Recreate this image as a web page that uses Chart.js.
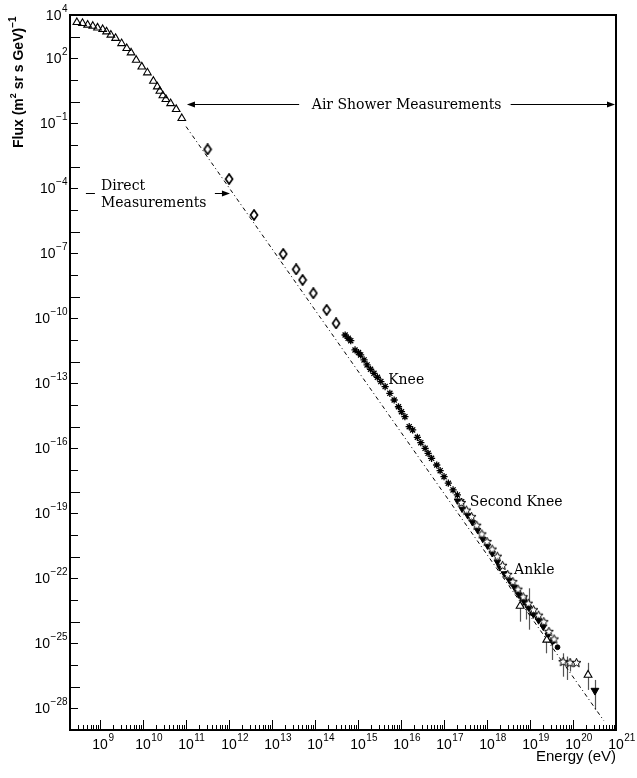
<!DOCTYPE html>
<html>
<head>
<meta charset="utf-8">
<script src="https://cdn.jsdelivr.net/npm/chart.js@4/dist/chart.umd.min.js"></script>
<style>
  html, body { margin: 0; padding: 0; background: #fff; }
  canvas { display: block; }
</style>
</head>
<body>
<canvas id="spectrum" width="637" height="778"></canvas>
<script>
// Values are log10: energy in eV, flux in (m^2 sr s GeV)^-1

// direct measurements (open triangles)
const directLogE = [8.46, 8.59, 8.71, 8.83, 8.94, 9.06, 9.15, 9.25, 9.36, 9.50, 9.62, 9.72,
  9.84, 9.97, 10.10, 10.24, 10.33, 10.39, 10.46, 10.53, 10.64, 10.77, 10.90];
const directLogF = [3.66, 3.62, 3.54, 3.49, 3.41, 3.34, 3.23, 3.08, 2.93, 2.69, 2.46, 2.26,
  1.92, 1.61, 1.34, 0.95, 0.69, 0.49, 0.28, 0.11, -0.08, -0.35, -0.77];

// balloon / satellite points (open diamonds)
const balloonLogE = [11.50, 12.00, 12.58, 13.26, 13.56, 13.71, 13.96, 14.27, 14.49];
const balloonLogF = [-2.20, -3.57, -5.23, -7.03, -7.74, -8.23, -8.84, -9.61, -10.23];

// knee region (asterisks)
const kneeLogE = [14.70, 14.77, 14.83, 14.93, 15.01, 15.06, 15.14, 15.21, 15.29, 15.37, 15.45,
  15.53, 15.63, 15.74, 15.84, 15.94, 16.01, 16.09, 16.19, 16.27, 16.38, 16.46, 16.56, 16.63,
  16.71, 16.83, 16.91, 17.00, 17.10, 17.21, 17.31, 17.41];
const kneeLogF = [-10.77, -10.92, -11.03, -11.46, -11.58, -11.69, -11.92, -12.15, -12.35, -12.54,
  -12.72, -12.92, -13.15, -13.46, -13.77, -14.08, -14.31, -14.54, -15.00, -15.15, -15.49, -15.74,
  -16.00, -16.23, -16.46, -16.77, -17.03, -17.31, -17.61, -17.92, -18.15, -18.46];

// filled down triangles
const fillTriLogE = [17.31, 17.42, 17.55, 17.66, 17.78, 17.90, 18.01, 18.12, 18.24, 18.30, 18.40,
  18.52, 18.63, 18.74, 18.86, 18.97, 19.08, 19.20, 19.31, 19.42, 19.52];
const fillTriLogF = [-18.42, -18.80, -19.10, -19.42, -19.78, -20.19, -20.50, -20.85, -21.25, -21.50,
  -21.78, -22.10, -22.40, -22.76, -23.08, -23.36, -23.68, -23.95, -24.25, -24.62, -24.92];

// filled circles
const dotLogE = [18.45, 18.58, 18.70, 18.82, 18.94, 19.06, 19.18, 19.30, 19.42, 19.54, 19.64];
const dotLogF = [-21.80, -22.20, -22.58, -22.92, -23.26, -23.62, -23.84, -24.16, -24.56, -24.90, -25.18];

// open stars
const starLogE = [17.40, 17.52, 17.64, 17.76, 17.88, 18.00, 18.12, 18.24, 18.36, 18.48, 18.60,
  18.72, 18.84, 18.96, 19.08, 19.20, 19.32, 19.44, 19.56, 19.77, 19.93, 20.08];
const starLogF = [-18.50, -18.85, -19.15, -19.55, -19.95, -20.30, -20.65, -20.98, -21.40, -21.82,
  -22.15, -22.50, -22.85, -23.15, -23.45, -23.70, -24.00, -24.45, -24.80, -25.84, -25.89, -25.89];

// open triangles with error bars
const openTriLogE = [18.77, 19.39, 20.35];
const openTriLogF = [-23.28, -24.84, -26.46];

// upper limit
const limitLogE = [20.51];
const limitLogF = [-27.18];

// error bars: energy, upper flux, lower flux
const errLogE = [18.77, 18.90, 18.98, 19.37, 19.50, 19.77, 19.85, 19.93, 20.35, 20.51];
const errHiLogF = [-22.54, -22.80, -22.46, -24.69, -24.84, -25.46, -25.61, -25.70, -25.90, -26.69];
const errLoLogF = [-24.00, -23.90, -24.37, -25.46, -25.77, -26.54, -26.69, -26.30, -27.15, -28.07];

// dash-dot power law
const refLineLogE = [11.0, 20.72];
const refLineLogF = [-1.15, -28.58];

// axis decades
const xDecades = [9, 10, 11, 12, 13, 14, 15, 16, 17, 18, 19, 20, 21];
const yLabelExps = [4, 2, -1, -4, -7, -10, -13, -16, -19, -22, -25, -28];

const pts = (es, fs) => es.map((e, i) => ({ x: 10 ** e, y: 10 ** fs[i] }));

function marker(w, h, draw) {
  const c = document.createElement('canvas');
  c.width = w; c.height = h;
  const g = c.getContext('2d');
  draw(g);
  return c;
}
const tallDiamond = marker(10, 12, g => {
  g.beginPath();
  g.moveTo(5, 1); g.lineTo(8.5, 6); g.lineTo(5, 11); g.lineTo(1.5, 6);
  g.closePath();
  g.fillStyle = '#fff'; g.fill();
  g.lineWidth = 1.7; g.strokeStyle = '#000'; g.stroke();
});
const openStar = marker(11, 11, g => {
  g.beginPath();
  for (let k = 0; k < 10; k++) {
    const r = k % 2 ? 2.1 : 4.7;
    const a = -Math.PI / 2 + k * Math.PI / 5;
    g.lineTo(5.5 + r * Math.cos(a), 5.9 + r * Math.sin(a));
  }
  g.closePath();
  g.fillStyle = '#fff'; g.fill();
  g.lineWidth = 1; g.strokeStyle = '#000'; g.stroke();
});

const serif = '14px "DejaVu Serif"';
const sans = '"Liberation Sans", Arial, sans-serif';

function arrowHead(ctx, x, y, dir) {
  ctx.beginPath();
  ctx.moveTo(x, y);
  ctx.lineTo(x - dir * 8, y - 3);
  ctx.lineTo(x - dir * 8, y + 3);
  ctx.closePath();
  ctx.fill();
}

function power(ctx, x, y, exp, align, big, small) {
  // "10" with a raised exponent; align 'right' puts the whole label's right edge at x,
  // 'center' centres the "10" on x
  ctx.font = big;
  const wb = ctx.measureText('10').width;
  ctx.font = small;
  const txt = String(exp).replace('-', '\u2212');
  const we = ctx.measureText(txt).width;
  let x0 = align === 'right' ? x - wb - we : x - wb / 2;
  ctx.textAlign = 'left';
  ctx.font = big;
  ctx.fillText('10', x0, y);
  ctx.font = small;
  ctx.fillText(txt, x0 + wb + 0.5, y - 8);
}

const frame = {
  id: 'frame',
  beforeDatasetsDraw(chart) {
    const { ctx, scales: { x, y } } = chart;
    ctx.save();
    ctx.strokeStyle = '#555';
    ctx.lineWidth = 1.2;
    errLogE.forEach((e, i) => {
      const px = Math.round(x.getPixelForValue(10 ** e)) + 0.5;
      ctx.beginPath();
      ctx.moveTo(px, y.getPixelForValue(10 ** errHiLogF[i]));
      ctx.lineTo(px, y.getPixelForValue(10 ** errLoLogF[i]));
      ctx.stroke();
    });
    ctx.restore();
  },
  afterDraw(chart) {
    const { ctx, chartArea: a, scales: { x, y } } = chart;
    const X = v => x.getPixelForValue(10 ** v);
    const Y = v => y.getPixelForValue(10 ** v);
    ctx.save();
    ctx.strokeStyle = '#000';
    ctx.fillStyle = '#000';

    // box
    ctx.lineWidth = 2;
    ctx.strokeRect(a.left, a.top, a.right - a.left, a.bottom - a.top);

    // x ticks, pointing up from the bottom axis
    ctx.lineWidth = 1;
    ctx.beginPath();
    for (let d = 8; d <= 20; d++) {
      for (let k = 1; k <= 9; k++) {
        const v = d + Math.log10(k);
        if (v <= 8.31 || v >= 21) continue;
        const px = Math.round(X(v)) + 0.5;
        const len = k === 1 ? 10 : 5;
        ctx.moveTo(px, a.bottom);
        ctx.lineTo(px, a.bottom - len);
      }
    }
    // y ticks, pointing right from the left axis
    for (let d = -28; d <= 3; d++) {
      const py = Math.round(Y(d)) + 0.5;
      ctx.moveTo(a.left, py);
      ctx.lineTo(a.left + (d % 3 === 0 ? 10 : 8), py);
    }
    ctx.stroke();

    // tick labels
    const big = '14px ' + sans, small = '10px ' + sans;
    ctx.textBaseline = 'alphabetic';
    xDecades.forEach(d => power(ctx, X(d), a.bottom + 19, d, 'center', big, small));
    yLabelExps.forEach(d => power(ctx, a.left - 3, Y(d) + 5, d, 'right', big, small));

    // axis titles
    ctx.font = '15px ' + sans;
    ctx.textAlign = 'right';
    ctx.fillText('Energy (eV)', a.right, a.bottom + 31);

    ctx.save();
    ctx.translate(23, 148);
    ctx.rotate(-Math.PI / 2);
    ctx.textAlign = 'left';
    let tx = 0;
    const seg = (t, f, dy) => { ctx.font = f; ctx.fillText(t, tx, dy); tx += ctx.measureText(t).width; };
    seg('Flux (m', 'bold 14px ' + sans, 0);
    seg('2', 'bold 9px ' + sans, -7);
    seg(' sr s GeV)', 'bold 14px ' + sans, 0);
    seg('\u22121', 'bold 10px ' + sans, -7);
    ctx.restore();

    // annotations
    ctx.font = serif;
    ctx.textAlign = 'left';
    ctx.fillText('Knee', X(15.70), Y(-13.03));
    ctx.fillText('Second Knee', X(17.60), Y(-18.66));
    ctx.fillText('Ankle', X(18.63), Y(-21.80));

    // air shower range
    const ay = Math.round(Y(-0.107)) + 0.5;
    ctx.textAlign = 'center';
    ctx.fillText('Air Shower Measurements', X(16.13), Y(-0.34));
    ctx.beginPath();
    ctx.moveTo(X(11.02) + 4, ay); ctx.lineTo(X(13.63), ay);
    ctx.moveTo(X(18.55), ay); ctx.lineTo(a.right - 4, ay);
    ctx.stroke();
    arrowHead(ctx, X(11.02), ay, -1);
    arrowHead(ctx, a.right - 1, ay, 1);

    // direct measurements
    ctx.textAlign = 'left';
    ctx.fillText('Direct', X(9.02), Y(-4.08));
    ctx.fillText('Measurements', X(9.02), Y(-4.86));
    const dy = Math.round(Y(-4.21)) + 0.5;
    ctx.beginPath();
    ctx.moveTo(X(8.67), dy); ctx.lineTo(X(8.88), dy);
    ctx.moveTo(X(11.67), dy); ctx.lineTo(X(12.0) - 4, dy);
    ctx.stroke();
    arrowHead(ctx, X(12.02), dy, 1);

    ctx.restore();
  }
};

new Chart(document.getElementById('spectrum'), {
  type: 'scatter',
  data: {
    datasets: [
      { data: pts(limitLogE, limitLogF), pointStyle: 'triangle', rotation: 180, pointRadius: 4.5,
        backgroundColor: '#000', borderColor: '#000', borderWidth: 1 },
      { data: pts(openTriLogE, openTriLogF), pointStyle: 'triangle', pointRadius: 4.5,
        backgroundColor: '#fff', borderColor: '#000', borderWidth: 1.1 },
      { data: pts(starLogE, starLogF), pointStyle: openStar, pointRadius: 5 },
      { data: pts(dotLogE, dotLogF), pointStyle: 'circle', pointRadius: 2.4,
        backgroundColor: '#000', borderColor: '#000', borderWidth: 1 },
      { data: pts(fillTriLogE, fillTriLogF), pointStyle: 'triangle', rotation: 180, pointRadius: 3.6,
        backgroundColor: '#000', borderColor: '#000', borderWidth: 1 },
      { data: pts(kneeLogE, kneeLogF), pointStyle: 'star', pointRadius: 3.6,
        backgroundColor: '#000', borderColor: '#000', borderWidth: 1.3 },
      { data: pts(balloonLogE, balloonLogF), pointStyle: tallDiamond, pointRadius: 5 },
      { data: pts(directLogE, directLogF), pointStyle: 'triangle', pointRadius: 4.4,
        backgroundColor: 'rgba(255,255,255,0)', borderColor: '#000', borderWidth: 1.1 },
      { type: 'line', data: pts(refLineLogE, refLineLogF), showLine: true, pointRadius: 0,
        borderColor: '#000', borderWidth: 1, borderDash: [4, 3, 1, 3], fill: false }
    ]
  },
  options: {
    responsive: false,
    animation: false,
    events: [],
    layout: { padding: { left: 70, right: 21, top: 15, bottom: 48 } },
    plugins: { legend: { display: false }, tooltip: { enabled: false } },
    scales: {
      x: { type: 'logarithmic', min: 10 ** 8.3, max: 1e21, display: false },
      y: { type: 'logarithmic', min: 1e-29, max: 1e4, display: false }
    }
  },
  plugins: [frame]
});
</script>
</body>
</html>
